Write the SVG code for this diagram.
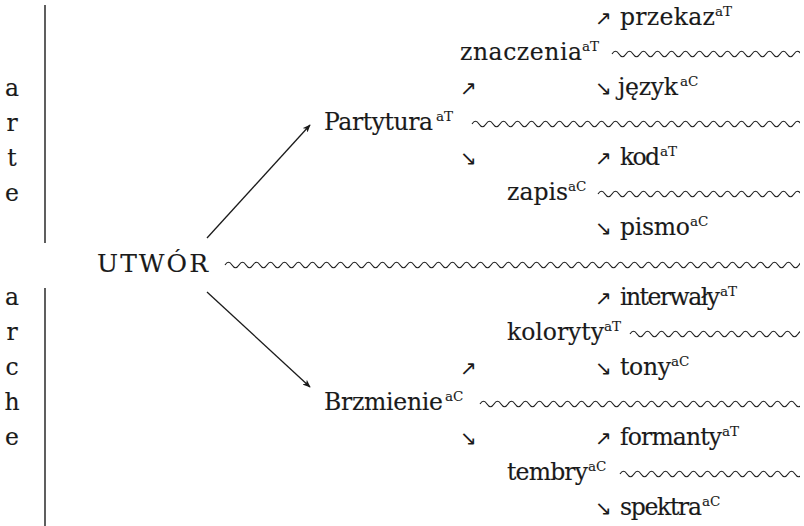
<svg xmlns="http://www.w3.org/2000/svg" xmlns:xlink="http://www.w3.org/1999/xlink" width="804" height="526" viewBox="0 0 804 526">
<style>
  .w { font-family: "DejaVu Serif", "Liberation Serif", serif; font-size: 23.5px; fill: #1a1a1a; stroke: #1a1a1a; stroke-width: 0.15; }
  .big { font-size: 25px; }
  .s { font-family: "DejaVu Serif", "Liberation Serif", serif; font-size: 13.5px; fill: #1a1a1a; stroke: #1a1a1a; stroke-width: 0.1; }
  .ar { font-family: "DejaVu Sans", sans-serif; font-size: 20px; fill: #1a1a1a; }
  .side { font-family: "DejaVu Serif", "Liberation Serif", serif; font-size: 23.5px; fill: #1a1a1a; stroke: #1a1a1a; stroke-width: 0.15; text-anchor: middle; }
  .bar { stroke: #1a1a1a; stroke-width: 1.4; }
  .conn { stroke: #1a1a1a; stroke-width: 1.3; fill: none; }
  .wave { stroke: #1a1a1a; stroke-width: 1.1; fill: none; }
</style>
<defs>
  <marker id="tip" viewBox="0 0 10 8" refX="9" refY="4" markerWidth="8" markerHeight="6.4" markerUnits="userSpaceOnUse" orient="auto">
    <path d="M0,0 L10,4 L0,8 L2.5,4 z" fill="#1a1a1a"/>
  </marker>
  <path id="wv" d="M0,0 q3.5,-5.5 7,0 t7,0t7,0t7,0t7,0t7,0t7,0t7,0t7,0t7,0t7,0t7,0t7,0t7,0t7,0t7,0t7,0t7,0t7,0t7,0t7,0t7,0t7,0t7,0t7,0t7,0t7,0t7,0t7,0t7,0t7,0t7,0t7,0t7,0t7,0t7,0t7,0t7,0t7,0t7,0t7,0t7,0t7,0t7,0t7,0t7,0t7,0t7,0t7,0t7,0t7,0t7,0t7,0t7,0t7,0t7,0t7,0t7,0t7,0t7,0t7,0t7,0t7,0t7,0t7,0t7,0t7,0t7,0t7,0t7,0t7,0t7,0t7,0t7,0t7,0t7,0t7,0t7,0t7,0t7,0t7,0t7,0t7,0"/>
  <clipPath id="clipR"><rect x="0" y="0" width="800" height="526"/></clipPath>
</defs>

<g id="side-arte">
  <line class="bar" x1="45" y1="5" x2="45" y2="243"/>
  <text class="side" x="12" y="96">a</text>
  <text class="side" x="12" y="131">r</text>
  <text class="side" x="12" y="166">t</text>
  <text class="side" x="12" y="201">e</text>
</g>
<g id="side-arche">
  <line class="bar" x1="45" y1="288" x2="45" y2="526"/>
  <text class="side" x="12" y="305">a</text>
  <text class="side" x="12" y="340">r</text>
  <text class="side" x="12" y="375">c</text>
  <text class="side" x="12" y="410">h</text>
  <text class="side" x="12" y="445">e</text>
</g>

<g id="connectors">
  <line class="conn" x1="207" y1="238" x2="310" y2="125" marker-end="url(#tip)"/>
  <line class="conn" x1="207" y1="292" x2="310" y2="387" marker-end="url(#tip)"/>
  <g clip-path="url(#clipR)" class="wave">
    <use xlink:href="#wv" href="#wv" x="612" y="54"/>
    <use xlink:href="#wv" href="#wv" x="472" y="124"/>
    <use xlink:href="#wv" href="#wv" x="598" y="194"/>
    <use xlink:href="#wv" href="#wv" x="225" y="265"/>
    <use xlink:href="#wv" href="#wv" x="630" y="334"/>
    <use xlink:href="#wv" href="#wv" x="480" y="404"/>
    <use xlink:href="#wv" href="#wv" x="620" y="474"/>
  </g>
  <text class="ar" x="460" y="95">↗</text>
  <text class="ar" x="460" y="165">↘</text>
  <text class="ar" x="460" y="375">↗</text>
  <text class="ar" x="460" y="445">↘</text>
</g>

<g id="utwor">
  <text class="w big" x="97" y="272" textLength="111" lengthAdjust="spacing">UTWÓR</text>
</g>

<g id="partytura">
  <text class="w" x="324" y="130" textLength="109" lengthAdjust="spacing">Partytura</text>
  <text class="s" x="436" y="121">aT</text>
</g>
<g id="znaczenia">
  <text class="w" x="460" y="60" textLength="122" lengthAdjust="spacing">znaczenia</text>
  <text class="s" x="582" y="51">aT</text>
</g>
<g id="przekaz">
  <text class="ar" x="595" y="25">↗</text>
  <text class="w" x="620" y="25" textLength="95" lengthAdjust="spacing">przekaz</text>
  <text class="s" x="715" y="16">aT</text>
</g>
<g id="jezyk">
  <text class="ar" x="595" y="95">↘</text>
  <text class="w" x="618" y="95" textLength="60" lengthAdjust="spacing">język</text>
  <text class="s" x="680" y="86">aC</text>
</g>
<g id="zapis">
  <text class="w" x="507" y="200" textLength="61" lengthAdjust="spacing">zapis</text>
  <text class="s" x="568" y="191">aC</text>
</g>
<g id="kod">
  <text class="ar" x="595" y="165">↗</text>
  <text class="w" x="620" y="165" textLength="40" lengthAdjust="spacing">kod</text>
  <text class="s" x="660" y="156">aT</text>
</g>
<g id="pismo">
  <text class="ar" x="595" y="235">↘</text>
  <text class="w" x="620" y="235" textLength="70" lengthAdjust="spacing">pismo</text>
  <text class="s" x="690" y="226">aC</text>
</g>

<g id="brzmienie">
  <text class="w" x="324" y="410" textLength="119" lengthAdjust="spacing">Brzmienie</text>
  <text class="s" x="445" y="401">aC</text>
</g>
<g id="koloryty">
  <text class="w" x="507" y="340" textLength="97" lengthAdjust="spacing">koloryty</text>
  <text class="s" x="604" y="331">aT</text>
</g>
<g id="interwaly">
  <text class="ar" x="595" y="305">↗</text>
  <text class="w" x="620" y="305" textLength="100" lengthAdjust="spacing">interwały</text>
  <text class="s" x="720" y="296">aT</text>
</g>
<g id="tony">
  <text class="ar" x="595" y="375">↘</text>
  <text class="w" x="620" y="375" textLength="51" lengthAdjust="spacing">tony</text>
  <text class="s" x="671" y="366">aC</text>
</g>
<g id="tembry">
  <text class="w" x="507" y="480" textLength="81" lengthAdjust="spacing">tembry</text>
  <text class="s" x="588" y="471">aC</text>
</g>
<g id="formanty">
  <text class="ar" x="595" y="445">↗</text>
  <text class="w" x="620" y="445" textLength="102" lengthAdjust="spacing">formanty</text>
  <text class="s" x="722" y="436">aT</text>
</g>
<g id="spektra">
  <text class="ar" x="595" y="515">↘</text>
  <text class="w" x="620" y="515" textLength="82" lengthAdjust="spacing">spektra</text>
  <text class="s" x="702" y="506">aC</text>
</g>
</svg>
